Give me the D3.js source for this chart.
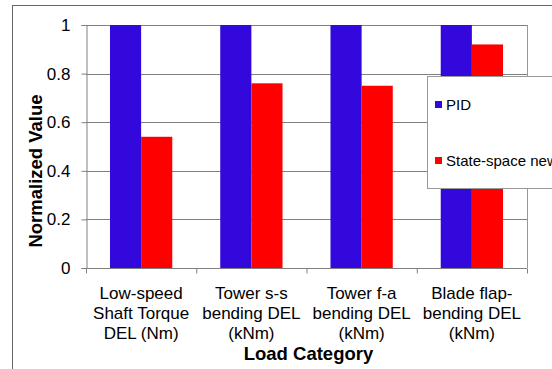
<!DOCTYPE html>
<html>
<head>
<meta charset="utf-8">
<script src="https://cdn.jsdelivr.net/npm/d3@7"></script>
<style>
  html, body { margin: 0; padding: 0; background: #fff; }
  svg { display: block; font-family: "Liberation Sans", Arial, sans-serif; }
</style>
</head>
<body>
<svg id="chart" width="552" height="369"></svg>
<script>
// Load categories (each label split into its printed lines)
const categories = [
  ["Low-speed", "Shaft Torque", "DEL (Nm)"],
  ["Tower s-s", "bending DEL", "(kNm)"],
  ["Tower f-a", "bending DEL", "(kNm)"],
  ["Blade flap-", "bending DEL", "(kNm)"]
];
const seriesNames = ["PID", "State-space new"];
const pidValues = [1, 1, 1, 1];
const stateSpaceValues = [0.54, 0.76, 0.75, 0.92];
const yTicks = [0, 0.2, 0.4, 0.6, 0.8, 1];
const colors = ["#3308dd", "#ff0000"];

const svg = d3.select("#chart");
const plot = { left: 86, right: 527, top: 25, bottom: 268 };

// Outer chart frame
svg.append("rect")
  .attr("x", 12.5).attr("y", 5.5)
  .attr("width", 600).attr("height", 400)
  .attr("fill", "#fff").attr("stroke", "#666").attr("stroke-width", 1);

const x = d3.scaleBand()
  .domain(d3.range(categories.length))
  .range([plot.left, plot.right])
  .paddingInner(0).paddingOuter(0);

const inner = d3.scaleBand()
  .domain(d3.range(seriesNames.length))
  .range([0, x.bandwidth()])
  .paddingOuter(0.77).paddingInner(0);

const y = d3.scaleLinear().domain([0, 1]).range([plot.bottom, plot.top]);

// Grid lines
svg.append("g")
  .selectAll("line")
  .data(yTicks.filter(d => d > 0))
  .join("line")
  .attr("x1", plot.left).attr("x2", plot.right)
  .attr("y1", d => Math.round(y(d)) + 0.5).attr("y2", d => Math.round(y(d)) + 0.5)
  .attr("stroke", "#808080").attr("stroke-width", 1);

// Right border of plot area
svg.append("line")
  .attr("x1", plot.right + 0.5).attr("x2", plot.right + 0.5)
  .attr("y1", plot.top).attr("y2", plot.bottom)
  .attr("stroke", "#999");

// Bars
const series = [pidValues, stateSpaceValues];
series.forEach((vals, s) => {
  svg.append("g")
    .selectAll("rect")
    .data(vals)
    .join("rect")
    .attr("x", (d, i) => x(i) + inner(s))
    .attr("width", inner.bandwidth())
    .attr("y", d => y(d))
    .attr("height", d => y(0) - y(d))
    .attr("fill", colors[s]);
});

// Y axis
const yAxis = svg.append("g")
  .attr("transform", `translate(${plot.left + 0.5},0)`)
  .call(d3.axisLeft(y).tickValues(yTicks).tickFormat(d3.format("")).tickSize(5).tickPadding(11));
yAxis.select(".domain").attr("stroke", "#808080");
yAxis.selectAll(".tick line").attr("stroke", "#808080");
yAxis.selectAll(".tick text").attr("font-size", 17).attr("fill", "#000")
  .attr("font-family", "Liberation Sans, Arial, sans-serif");

// X axis (category tick marks at band edges)
const xAxis = svg.append("g")
  .attr("transform", `translate(0,${plot.bottom + 0.5})`);
xAxis.append("line")
  .attr("x1", plot.left).attr("x2", plot.right)
  .attr("stroke", "#808080");
xAxis.selectAll("line.tk")
  .data(d3.range(categories.length + 1))
  .join("line")
  .attr("class", "tk")
  .attr("x1", i => (i < categories.length ? x(i) : plot.right) + 0.5)
  .attr("x2", i => (i < categories.length ? x(i) : plot.right) + 0.5)
  .attr("y1", 0).attr("y2", 5)
  .attr("stroke", "#808080");

// Category labels
const catG = svg.append("g");
categories.forEach((lines, i) => {
  const t = catG.append("text")
    .attr("x", x(i) + x.bandwidth() / 2)
    .attr("y", 299)
    .attr("text-anchor", "middle")
    .attr("font-size", 17)
    .attr("fill", "#000");
  lines.forEach((ln, k) => {
    t.append("tspan")
      .attr("x", x(i) + x.bandwidth() / 2)
      .attr("dy", k === 0 ? 0 : 20)
      .text(ln);
  });
});

// Axis titles
svg.append("text")
  .attr("x", (plot.left + plot.right) / 2 + 2)
  .attr("y", 360)
  .attr("text-anchor", "middle")
  .attr("font-size", 18.5).attr("font-weight", "bold")
  .text("Load Category");

svg.append("text")
  .attr("transform", `translate(42,171) rotate(-90)`)
  .attr("text-anchor", "middle")
  .attr("font-size", 18.5).attr("font-weight", "bold")
  .text("Normalized Value");

// Legend
const legend = svg.append("g");
legend.append("rect")
  .attr("x", 427.5).attr("y", 76.5)
  .attr("width", 200).attr("height", 112)
  .attr("fill", "#fff").attr("stroke", "#999");
const legendY = [104, 160];
seriesNames.forEach((name, s) => {
  legend.append("rect")
    .attr("x", 435).attr("y", legendY[s] - 3)
    .attr("width", 7).attr("height", 7)
    .attr("fill", colors[s]);
  legend.append("text")
    .attr("x", 446).attr("y", legendY[s] + 6)
    .attr("font-size", 15)
    .attr("fill", "#000")
    .text(name);
});
</script>
</body>
</html>
